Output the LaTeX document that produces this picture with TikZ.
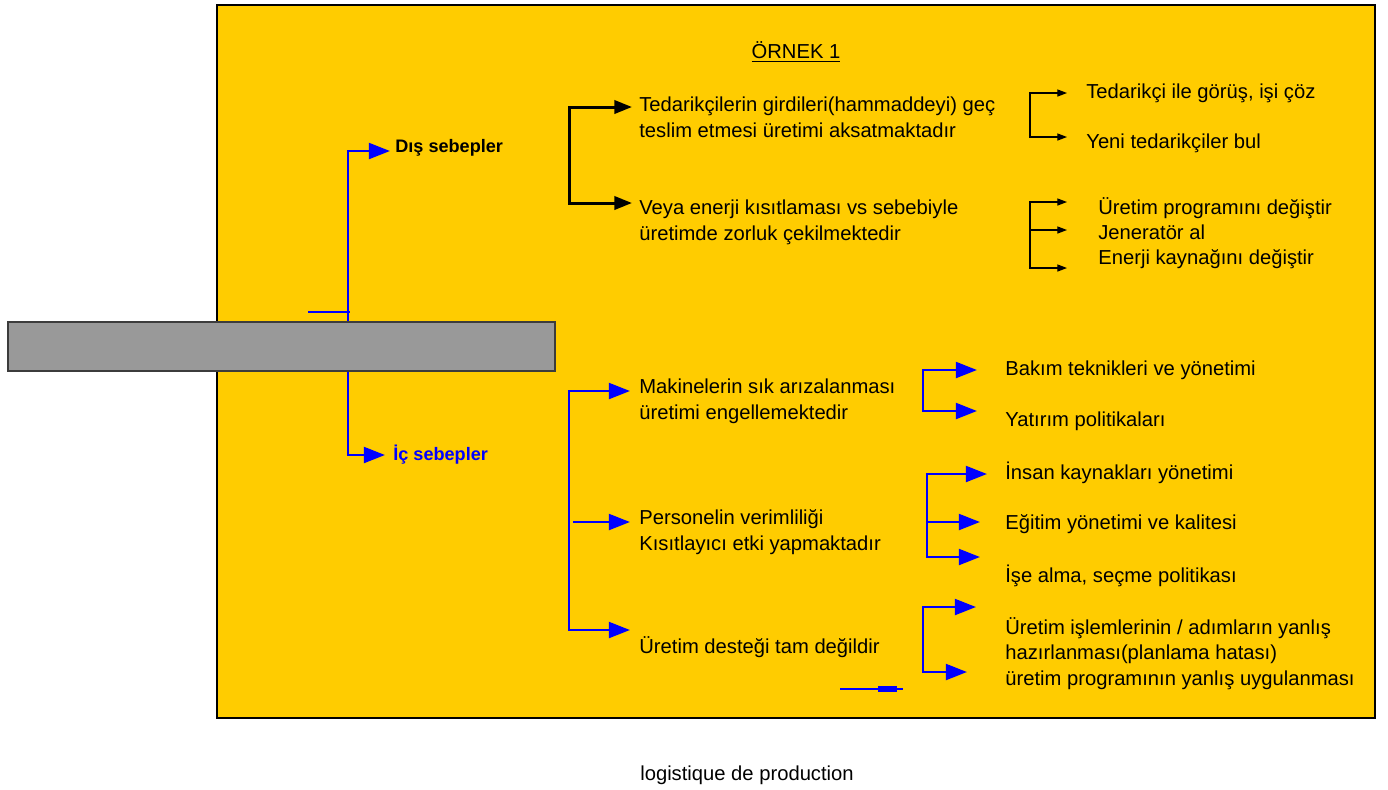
\documentclass[tikz,border=0pt]{standalone}
\usepackage{fontspec}
\setmainfont{Liberation Sans}
\usepackage{xcolor}
\definecolor{ornekyellow}{RGB}{255, 204, 0}
\definecolor{bargrey}{RGB}{153, 153, 153}
\definecolor{bardark}{RGB}{60, 60, 60}
\usetikzlibrary{
  arrows.meta,
  calc
}

\begin{document}
\begin{tikzpicture}[x=0.02cm, y=-0.02cm,
  txt/.style={anchor=west, inner sep=0pt, align=left, font=\fontsize{11.5}{14.7}\selectfont},
  head/.style={anchor=west, inner sep=0pt, font=\fontsize{10.3}{12}\selectfont\bfseries},
  bluebr/.style={draw=blue, line width=1.5pt, >={Triangle[length=12pt, width=9pt]}},
  blkbr/.style={draw=black, line width=1.7pt, >={Triangle[length=10pt, width=7.5pt]}},
  thinbr/.style={draw=black, line width=0.7pt, >={Triangle[length=5.5pt, width=4pt]}}]

  \useasboundingbox (0,0) rectangle (1388,789);

  % yellow frame
  \draw[line width=1.6pt, fill=ornekyellow] (217,5) rectangle (1375,718);
  \node[txt, anchor=center] (title) at (796,52) {\underline{ÖRNEK 1}};

  % DIS / IC sebepler - left branch
  \node[head] (dis) at (395,148) {Dış sebepler};
  \node[head, text=blue] (ic) at (393,455) {İç sebepler};
  \draw[bluebr, <->] ($(dis.west)+(-5,3)$) -- ++(-42,0) |- ($(ic.west)+(-8,0)$);
  \draw[blue, line width=1.5pt] (308,312) -- (350,312);

  % grey bar over the spine
  \draw[draw=bardark, line width=0.6pt, fill=bargrey] (8,322) rectangle (555,371);

  % dis sebepler - black bracket
  \node[txt] (t1) at (639,117) {Tedarikçilerin girdileri(hammaddeyi) geç\\teslim etmesi üretimi aksatmaktadır};
  \node[txt] (t2) at (639,222) {Veya enerji kısıtlaması vs sebebiyle\\üretimde zorluk çekilmektedir};
  \draw[blkbr, <->] ($(t1.west)+(-7,-10)$) -- ++(-63,0) |- ($(t2.west)+(-7,-19)$);

  \node[txt] (r1) at (1086,93) {Tedarikçi ile görüş, işi çöz};
  \node[txt] (r2) at (1086,143) {Yeni tedarikçiler bul};
  \draw[thinbr, <->] ($(r1.west)+(-19,0)$) -- ++(-37,0) |- ($(r2.west)+(-19,-6)$);

  \node[txt] (r3) at (1098,208) {Üretim programını değiştir};
  \node[txt] (r4) at (1098,232) {Jeneratör al};
  \node[txt] (r5) at (1098,259) {Enerji kaynağını değiştir};
  \draw[thinbr, <->] ($(r3.west)+(-31,-6)$) -- ++(-37,0) |- ($(r5.west)+(-31,9)$);
  \draw[thinbr, ->] ($(r4.west)+(-68,-2)$) -- ++(37,0);

  % ic sebepler - blue bracket
  \node[txt] (m1) at (639,401) {Makinelerin sık arızalanması\\üretimi engellemektedir};
  \node[txt] (m2) at (639,532) {Personelin verimliliği\\Kısıtlayıcı etki yapmaktadır};
  \node[txt] (m3) at (639,647) {Üretim desteği tam değildir};
  \draw[bluebr, <->] ($(m1.west)+(-9,-10)$) -- ++(-61,0) |- ($(m3.west)+(-9,-17)$);
  \draw[bluebr, ->] ($(m2.west)+(-66,-10)$) -- ++(57,0);

  \node[txt] (s1) at (1005,370) {Bakım teknikleri ve yönetimi};
  \node[txt] (s2) at (1005,421) {Yatırım politikaları};
  \draw[bluebr, <->] ($(s1.west)+(-28,0)$) -- ++(-54,0) |- ($(s2.west)+(-28,-10)$);

  \node[txt] (s3) at (1005,473) {İnsan kaynakları yönetimi};
  \node[txt] (s4) at (1005,524) {Eğitim yönetimi ve kalitesi};
  \node[txt] (s5) at (1005,576) {İşe alma, seçme politikası};
  \draw[bluebr, <->] ($(s3.west)+(-18,1)$) -- ++(-60,0) |- ($(s5.west)+(-25,-19)$);
  \draw[bluebr, ->] ($(s4.west)+(-78,-2)$) -- ++(53,0);

  \node[txt] (s6) at (1005,653.5) {Üretim işlemlerinin / adımların yanlış\\hazırlanması(planlama hatası)\\üretim programının yanlış uygulanması};
  \draw[bluebr, <->] ($(s6.west)+(-29,-46.5)$) -- ++(-53,0) |- ($(s6.west)+(-38,18.5)$);

  % stray arrow
  \draw[blue, line width=1pt] (840,689) -- (903,689);
  \fill[blue] (878,686) rectangle (897,692);

  % caption
  \node[txt, anchor=center] (cap) at (747,775) {logistique de production};

\end{tikzpicture}
\end{document}
